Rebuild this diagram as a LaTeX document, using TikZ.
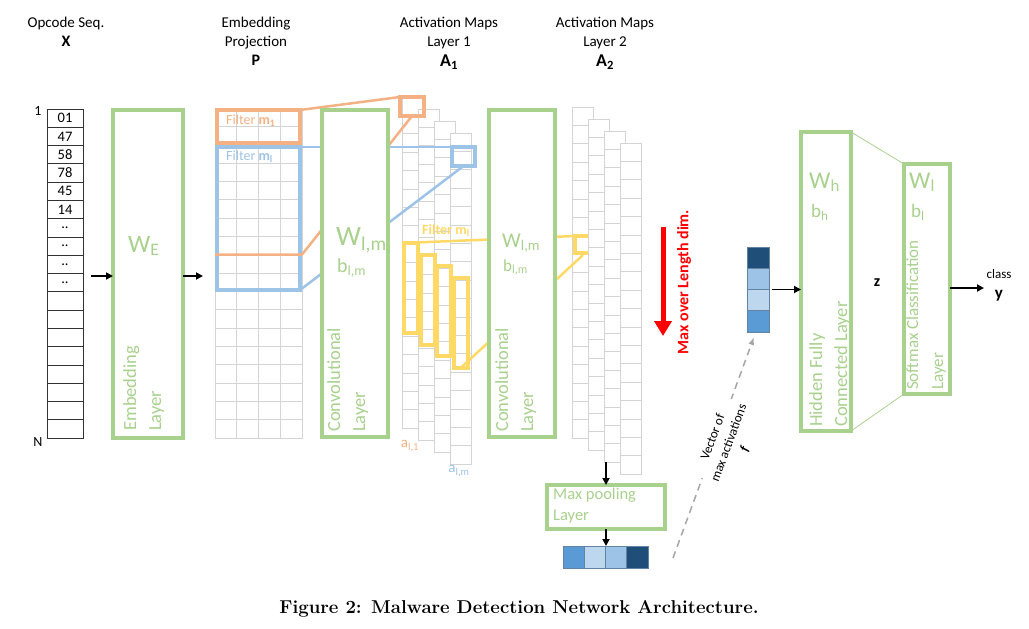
\documentclass[tikz,border=0pt]{standalone}
\usepackage{fontspec}
\newfontfamily\calibri{Carlito}
\usetikzlibrary{positioning,calc,arrows.meta}

\definecolor{lgreen}{HTML}{A9D18E}
\definecolor{forange}{HTML}{F4B183}
\definecolor{fblue}{HTML}{9DC3E6}
\definecolor{fyellow}{HTML}{FFD966}
\definecolor{cellgray}{HTML}{D4D4D4}
\definecolor{vdark}{HTML}{1F4E79}
\definecolor{vmid}{HTML}{5B9BD5}
\definecolor{vlight}{HTML}{BDD7EE}
\definecolor{vpale}{HTML}{9DC3E6}
\definecolor{dashgray}{HTML}{A6A6A6}

\newcommand\fsz[2]{\fontsize{#1}{#2}\selectfont}

\tikzset{
	layer/.style={draw=lgreen, line width=3.5pt, fill=white, inner sep=0pt, outer sep=0pt, anchor=north west},
	ltext/.style={text=lgreen, font=\calibri\fsz{18.5}{25}, align=left, rotate=90, anchor=north west, inner sep=0pt},
	wtext/.style={text=lgreen, anchor=base west, inner sep=0pt},
	head/.style={anchor=north, align=center, font=\calibri\fsz{15}{19}, inner sep=0pt},
	opcell/.style={draw=black!80, line width=0.8pt, minimum width=36pt, minimum height=18.28pt, inner sep=0pt, font=\calibri\fsz{14.5}{14}},
	mapcol/.style={draw=cellgray, fill=white, line width=0.6pt, minimum width=21pt, minimum height=331pt, inner sep=0pt, outer sep=0pt, anchor=north west},
	cellline/.style={draw=cellgray, line width=0.6pt},
	filt/.style={line width=4pt, inner sep=0pt, outer sep=0pt, anchor=north west},
	link/.style={line width=2.5pt},
	arr/.style={-{Triangle[length=7pt,width=7pt]}, line width=1.8pt},
	vcell/.style={draw=vdark!70, line width=0.6pt, inner sep=0pt, outer sep=0pt, anchor=north west},
	ftext/.style={anchor=west, inner sep=0pt, font=\calibri\fsz{14}{14}},
}

\begin{document}
\begin{tikzpicture}[x=1pt, y=-1pt, font=\calibri]
	\useasboundingbox (0,0) rectangle (1029,629);

	% headings
	\node[head] (hx) at (66,17) {Opcode Seq.\\{\fsz{16}{19}\textbf{X}}};
	\node[head] (hp) at (256,17) {Embedding\\Projection\\{\fsz{16}{19}\textbf{P}}};
	\node[head] (ha1) at (449,17) {Activation Maps\\Layer 1\\[1pt]{\fsz{18}{19}\textbf{A\textsubscript{1}}}};
	\node[head] (ha2) at (605,17) {Activation Maps\\Layer 2\\[1pt]{\fsz{18}{19}\textbf{A\textsubscript{2}}}};

	% opcode sequence
	\foreach \lab [count=\i] in {01,47,58,78,45,14,{..},{..},{..},{..},{},{},{},{},{},{},{},{}}
		\node[opcell] (op\i) at (65,{99.86+18.28*\i}) {\lab};
	\node[font=\calibri\fsz{14}{14}, inner sep=0pt] (first) at (38,111) {1};
	\node[font=\calibri\fsz{14}{14}, inner sep=0pt] (last) at (38,442) {N};

	% embedding layer
	\node[layer, minimum width=70, minimum height=328] (emb) at (113,110) {};
	\node[wtext, font=\calibri\fsz{25}{25}] (we) at (128,252) {W\textsubscript{E}};
	\node[ltext] (embt) at (123,431) {Embedding\\Layer};
	\draw[arr] ([xshift=-22pt,yshift=-2pt]emb.west) -- ([yshift=-2pt]emb.west);
	\draw[arr] ([yshift=-2pt]emb.east) -- ++(20,0);

	% embedding projection grid
	\node[draw=cellgray, line width=0.6pt, minimum width=87, minimum height=330, inner sep=0pt, outer sep=0pt, anchor=north west] (proj) at (215,108) {};
	\foreach \c in {1,2,3}
		\draw[cellline] ($(proj.north west)+({21.75*\c},0)$) -- ++(0,330);
	\foreach \r in {1,...,17}
		\draw[cellline] ($(proj.north west)+(0,{18.33*\r})$) -- ++(87,0);

	% activation maps layer 1
	\foreach \k in {0,...,3}{
		\node[mapcol] (a1c\k) at ({402+16*\k},{97+12*\k}) {};
		\foreach \r in {1,...,17}
			\draw[cellline] ($(a1c\k.north west)+(0,{18.39*\r})$) -- ++(21,0);
	}

	% filters on the projection
	\node[filt, draw=fblue, minimum width=83, minimum height=143] (ml) at (217,147) {};
	\node[filt, draw=forange, minimum width=83, minimum height=33] (m1) at (217,110) {};
	\node[ftext, text=forange] (tm1) at (226,121) {Filter \textbf{m\textsubscript{1}}};
	\node[ftext, text=fblue] (tml) at (226,157) {Filter \textbf{m\textsubscript{l}}};
	\node[filt, draw=forange, minimum width=24, minimum height=19] (osq) at (400,97) {};
	\node[filt, draw=fblue, minimum width=23, minimum height=19] (bsq) at (452,147) {};
	\draw[link, forange] (m1.north east) -- (osq.north west);
	\draw[link, forange] ($(proj.north west)+(0,146.6)$) -- ++(87,0) coordinate (mlast) -- (osq.south);
	\draw[link, fblue] (ml.north east) -- (bsq.north west);
	\draw[link, fblue] (ml.south east) -- (bsq.south);

	% convolutional layer 1
	\node[layer, minimum width=66, minimum height=327] (conv1) at (322,110) {};
	\node[wtext, font=\calibri\fsz{28}{28}] (w1) at (336,245) {W\textsubscript{l,m}};
	\node[wtext, font=\calibri\fsz{20}{20}] (b1) at (337,272) {b\textsubscript{l,m}};
	\node[ltext] (conv1t) at (327,432) {Convolutional\\Layer};
	\node[filt, draw=forange, minimum width=24, minimum height=19] at (400,97) {};
	\node[filt, draw=fblue, minimum width=23, minimum height=19] at (452,147) {};

	% filter on layer 1
	\foreach \k in {1,...,4}
		\node[filt, draw=fyellow, minimum width=14, minimum height=90] (ym\k) at ({404+16.7*(\k-1)},{243+11.5*(\k-1)}) {};
	\node[ftext, text=fyellow, font=\calibri\bfseries\fsz{14}{14}] (tmy) at (422,231) {Filter m\textsubscript{l}};
	\node[font=\calibri\fsz{15}{15}, text=forange, inner sep=0pt] (al1) at (410,446) {a\textsubscript{l,1}};
	\node[font=\calibri\fsz{15}{15}, text=fblue, inner sep=0pt] (alm) at (459,471) {a\textsubscript{l,m}};

	% activation maps layer 2
	\node[mapcol] (a2c0) at (572,107) {};
	\foreach \r in {1,...,17}
		\draw[cellline] ($(a2c0.north west)+(0,{18.39*\r})$) -- ++(21,0);
	\coordinate (ysqnw) at (575,236);
	\coordinate (ysqs) at (583,255);
	\draw[link, fyellow] (ym1.north west) -- (ysqnw);
	\draw[link, fyellow] (ym4.south) -- (ysqs);

	% convolutional layer 2
	\node[layer, minimum width=66, minimum height=327] (conv2) at (489,110) {};
	\node[wtext, font=\calibri\fsz{21}{21}] (w2) at (502,247) {W\textsubscript{l,m}};
	\node[wtext, font=\calibri\fsz{17}{17}] (b2) at (503,271) {b\textsubscript{l,m}};
	\node[ltext] (conv2t) at (495,432) {Convolutional\\Layer};

	\node[filt, draw=fyellow, minimum width=15, minimum height=17] (ysq) at (575,236) {};
	\foreach \k in {1,2,3}{
		\node[mapcol] (a2c\k) at ({572+16*\k},{107+12*\k}) {};
		\foreach \r in {1,...,17}
			\draw[cellline] ($(a2c\k.north west)+(0,{18.39*\r})$) -- ++(21,0);
	}

	% max pooling
	\node[layer, minimum width=118, minimum height=44] (pool) at (547,485) {};
	\node[anchor=north west, align=left, inner sep=0pt, text=lgreen, font=\calibri\fsz{16.5}{21}] (poolt) at (553,488) {Max pooling\\Layer};
	\draw[arr] (pool.north |- a2c2.south) -- (pool.north);
	\foreach \c/\col in {1/vmid,2/vlight,3/vpale,4/vdark}
		\node[vcell, fill=\col, minimum width=21.25, minimum height=22] (pv\c) at ({563+21.25*(\c-1)},546) {};
	\draw[arr] (pool.south) -- (pool.south |- pv1.north);

	% max over length
	\coordinate (mtop) at (663,227);
	\coordinate (mbot) at (663,336);
	\draw[red, line width=5pt, -{Triangle[length=15pt,width=17pt]}] (mtop) -- (mbot);
	\node[rotate=90, text=red, inner sep=0pt, font=\calibri\bfseries\fsz{16}{16}] (mxl) at (684,282) {Max over Length dim.};

	% vector f
	\foreach \c/\col in {1/vdark,2/vpale,3/vlight,4/vmid}
		\node[vcell, fill=\col, minimum width=22, minimum height=21.25] (fv\c) at (747,{247+21.25*(\c-1)}) {};
	\coordinate (ftail) at (673,558);
	\draw[dashgray, line width=1.5pt, dash pattern=on 7pt off 5pt, -{Latex[length=8pt,width=6pt]}] (ftail) -- ([xshift=-4pt,yshift=-5pt]fv4.south);
	\node[rotate=69.7, align=center, fill=white, inner sep=1pt, font=\calibri\fsz{13}{17}] (ft) at (729,443) {Vector of\\max activations\\\textbf{\textit{f}}};

	% hidden and softmax layers
	\node[layer, minimum width=50, minimum height=299] (hid) at (801,132) {};
	\node[layer, minimum width=46, minimum height=230] (soft) at (904,164) {};
	\draw[lgreen, line width=0.8pt] (hid.north east) -- (soft.north west);
	\draw[lgreen, line width=0.8pt] (hid.south east) -- (soft.south west);
	\draw[arr] ([xshift=3pt]fv2.south east) -- (hid.west |- fv2.south east);
	\node[wtext, font=\calibri\fsz{24}{24}] (wh) at (809,188) {W\textsubscript{h}};
	\node[wtext, font=\calibri\fsz{19}{19}] (bh) at (811,217) {b\textsubscript{h}};
	\node[ltext] (hidt) at (809,427) {Hidden Fully\\Connected Layer};
	\node[wtext, font=\calibri\fsz{24}{24}] (wl) at (909,188) {W\textsubscript{l}};
	\node[wtext, font=\calibri\fsz{19}{19}] (bl) at (911,217) {b\textsubscript{l}};
	\node[ltext, font=\calibri\fsz{17}{25}] (softt) at (906,390) {Softmax Classification\\Layer};
	\node[font=\calibri\bfseries\fsz{16}{16}, inner sep=0pt] (z) at (877,283) {z};
	\draw[arr] ([yshift=-9pt]soft.east) -- ++(34,0) coordinate (yout);
	\node[font=\calibri\fsz{13}{13}, inner sep=0pt] (cls) at (999,274) {class};
	\node[font=\calibri\bfseries\fsz{17}{17}, inner sep=0pt] (yl) at (999,296) {y};

	% caption
	\node[font=\rmfamily\bfseries\fsz{18.6}{20}] (cap) at (519,609) {Figure 2: Malware Detection Network Architecture.};
\end{tikzpicture}
\end{document}
